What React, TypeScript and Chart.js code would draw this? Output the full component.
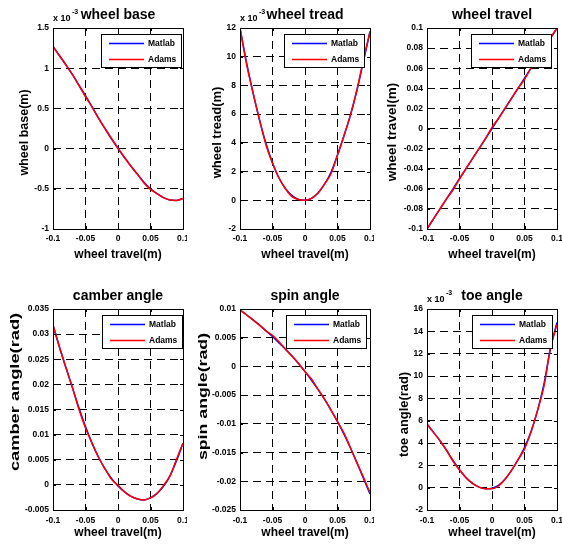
import React, { useEffect, useRef } from 'react';
import { Chart, registerables } from 'chart.js';

Chart.register(...registerables);

const FONT = "'Liberation Sans', Arial, Helvetica, sans-serif";

// ---------- data ----------
const travel = [-0.1, -0.09, -0.08, -0.07, -0.06, -0.05, -0.04, -0.03, -0.02, -0.01, 0, 0.01, 0.02, 0.03, 0.04, 0.05, 0.06, 0.07, 0.08, 0.09, 0.1];
const xTicks = [-0.1, -0.05, 0, 0.05, 0.1];
const seriesNames = ['Matlab', 'Adams'];

// wheel base (x 10^-3 m)
const wheelBaseMatlab = [1.27, 1.155, 1.04, 0.92, 0.79, 0.66, 0.52, 0.38, 0.25, 0.12, 0.0, -0.11, -0.22, -0.32, -0.42, -0.5, -0.56, -0.61, -0.64, -0.645, -0.62];
const wheelBaseAdams = [1.27, 1.155, 1.04, 0.92, 0.783, 0.645, 0.52, 0.38, 0.25, 0.128, 0.008, -0.11, -0.22, -0.32, -0.428, -0.508, -0.56, -0.61, -0.64, -0.645, -0.62];
const wheelBaseTicks = [-1, -0.5, 0, 0.5, 1, 1.5];

// wheel tread (x 10^-3 m)
const wheelTreadMatlab = [12.0, 9.6, 7.5, 5.6, 3.95, 2.6, 1.55, 0.8, 0.32, 0.06, 0.0, 0.13, 0.5, 1.12, 1.95, 3.15, 4.5, 5.95, 7.7, 9.7, 11.75];
const wheelTreadAdams = [12.0, 9.5, 7.5, 5.6, 3.85, 2.6, 1.55, 0.8, 0.25, 0.06, 0.0, 0.13, 0.5, 1.12, 1.85, 3.15, 4.5, 5.95, 7.7, 9.8, 11.75];
const wheelTreadTicks = [-2, 0, 2, 4, 6, 8, 10, 12];

// wheel travel (m)
const wheelTravelMatlab = [-0.1, -0.09, -0.08, -0.07, -0.06, -0.05, -0.04, -0.03, -0.02, -0.01, 0, 0.01, 0.02, 0.03, 0.04, 0.05, 0.06, 0.07, 0.08, 0.09, 0.1];
const wheelTravelAdams = [-0.1, -0.09, -0.08, -0.07, -0.0612, -0.05, -0.04, -0.03, -0.02, -0.01, 0.0012, 0.01, 0.02, 0.03, 0.04, 0.0488, 0.06, 0.07, 0.08, 0.09, 0.1];
const wheelTravelTicks = [-0.1, -0.08, -0.06, -0.04, -0.02, 0, 0.02, 0.04, 0.06, 0.08, 0.1];

// camber angle (rad)
const camberMatlab = [0.0318, 0.0274, 0.0233, 0.0193, 0.0153, 0.0116, 0.0083, 0.0055, 0.0032, 0.0013, -0.0002, -0.0014, -0.0023, -0.0028, -0.003, -0.0026, -0.0017, -0.0003, 0.0018, 0.0048, 0.0083];
const camberAdams = [0.0318, 0.0274, 0.0233, 0.0193, 0.015, 0.0113, 0.0083, 0.0055, 0.0032, 0.0011, -0.0001, -0.0014, -0.0023, -0.0028, -0.003, -0.0026, -0.0017, -0.0001, 0.0018, 0.0051, 0.0083];
const camberTicks = [-0.005, 0, 0.005, 0.01, 0.015, 0.02, 0.025, 0.03, 0.035];

// spin angle (rad)
const spinMatlab = [0.0098, 0.009, 0.0081, 0.0072, 0.0062, 0.0052, 0.0041, 0.003, 0.0018, 0.0005, -0.0009, -0.0024, -0.004, -0.0057, -0.0076, -0.0096, -0.0118, -0.0142, -0.0168, -0.0195, -0.0222];
const spinAdams = [0.0098, 0.009, 0.0081, 0.0072, 0.0062, 0.0054, 0.0043, 0.003, 0.0018, 0.0005, -0.0009, -0.0022, -0.004, -0.0057, -0.0076, -0.0096, -0.0116, -0.0142, -0.0168, -0.0193, -0.022];
const spinTicks = [-0.025, -0.02, -0.015, -0.01, -0.005, 0, 0.005, 0.01];

// toe angle (x 10^-3 rad)
const toeMatlab = [5.7, 4.95, 4.2, 3.35, 2.45, 1.6, 0.9, 0.38, 0.05, -0.1, -0.05, 0.2, 0.75, 1.55, 2.5, 3.6, 5.0, 6.9, 9.3, 12.5, 14.8];
const toeAdams = [5.7, 4.95, 4.2, 3.35, 2.35, 1.6, 0.9, 0.38, 0.05, -0.1, -0.1, 0.15, 0.75, 1.55, 2.5, 3.45, 5.0, 6.9, 9.1, 12.5, 14.6];
const toeTicks = [-2, 0, 2, 4, 6, 8, 10, 12, 14, 16];

// ---------- panel descriptions ----------
type Panel = {
  title: string;
  yLabel: string;
  exponent: string | null;
  matlab: number[];
  adams: number[];
  yTicks: number[];
  left: number; top: number; width: number; height: number;
  yAxisWidth: number; rightPad: number;
  titlePad: { top: number; bottom: number };
  xAxisHeight: number; xTitlePadBottom: number; xTickPad: number;
  yTitleDX: number; yTitleDY: number; yTitleStretch: number;
  legendInset: number;
};

const topRow = { top: 0, height: 270, titlePad: { top: 7.1, bottom: 4.1 }, xAxisHeight: 41, xTitlePadBottom: 7.8, xTickPad: 5 };
const bottomRow = { top: 270, height: 275, titlePad: { top: 17.6, bottom: 4.6 }, xAxisHeight: 35, xTitlePadBottom: 4.8, xTickPad: 6 };
const col1 = { left: 0, width: 187, yAxisWidth: 53, rightPad: 4 };
const col2 = { left: 187, width: 187, yAxisWidth: 53, rightPad: 4 };
const col3 = { left: 374, width: 188, yAxisWidth: 53, rightPad: 5 };

const panels: Panel[] = [
  { title: 'wheel base', yLabel: 'wheel base(m)', exponent: '-3', matlab: wheelBaseMatlab, adams: wheelBaseAdams, yTicks: wheelBaseTicks,
    ...topRow, ...col1, yTitleDX: -28, yTitleDY: 4, yTitleStretch: 1.0, legendInset: 2 },
  { title: 'wheel tread', yLabel: 'wheel tread(m)', exponent: '-3', matlab: wheelTreadMatlab, adams: wheelTreadAdams, yTicks: wheelTreadTicks,
    ...topRow, ...col2, yTitleDX: -22, yTitleDY: 4, yTitleStretch: 1.04, legendInset: 6 },
  { title: 'wheel travel', yLabel: 'wheel travel(m)', exponent: null, matlab: wheelTravelMatlab, adams: wheelTravelAdams, yTicks: wheelTravelTicks,
    ...topRow, ...col3, yTitleDX: -34, yTitleDY: 3.5, yTitleStretch: 1.08, legendInset: 6 },
  { title: 'camber angle', yLabel: 'camber angle(rad)', exponent: null, matlab: camberMatlab, adams: camberAdams, yTicks: camberTicks,
    ...bottomRow, ...col1, yTitleDX: -37.5, yTitleDY: -17.5, yTitleStretch: 1.46, legendInset: 1 },
  { title: 'spin angle', yLabel: 'spin angle(rad)', exponent: null, matlab: spinMatlab, adams: spinAdams, yTicks: spinTicks,
    ...bottomRow, ...col2, yTitleDX: -36, yTitleDY: -13, yTitleStretch: 1.42, legendInset: 4 },
  { title: 'toe angle', yLabel: 'toe angle(rad)', exponent: '-3', matlab: toeMatlab, adams: toeAdams, yTicks: toeTicks,
    ...bottomRow, ...col3, yTitleDX: -22, yTitleDY: 5, yTitleStretch: 1.03, legendInset: 5 },
];

// ---------- plugin: MATLAB-like box, ticks, legend, labels ----------
const matlabPlugin = {
  id: 'matlabDecor',
  afterDatasetsDraw(chart: any, _args: any, opts: any) {
    const { ctx, chartArea: ca } = chart;
    const xs = chart.scales.x;
    const ys = chart.scales.y;
    ctx.save();
    ctx.strokeStyle = '#000';
    ctx.lineWidth = 1;
    ctx.setLineDash([]);
    const tl = 3;
    ctx.beginPath();
    xs.ticks.forEach((t: any) => {
      const px = Math.round(xs.getPixelForValue(t.value)) + 0.5;
      ctx.moveTo(px, ca.bottom); ctx.lineTo(px, ca.bottom - tl);
      ctx.moveTo(px, ca.top); ctx.lineTo(px, ca.top + tl);
    });
    ys.ticks.forEach((t: any) => {
      const py = Math.round(ys.getPixelForValue(t.value)) + 0.5;
      ctx.moveTo(ca.left, py); ctx.lineTo(ca.left + tl, py);
      ctx.moveTo(ca.right, py); ctx.lineTo(ca.right - tl, py);
    });
    ctx.stroke();
    ctx.strokeRect(Math.round(ca.left) + 0.5, Math.round(ca.top) + 0.5, Math.round(ca.right - ca.left), Math.round(ca.bottom - ca.top));

    // legend box
    const w = 80, h = 33;
    const bx = Math.round(ca.right - opts.legendInset - w);
    const by = Math.round(ca.top + 6);
    ctx.fillStyle = '#fff';
    ctx.fillRect(bx, by, w, h);
    ctx.strokeRect(bx + 0.5, by + 0.5, w, h);
    ctx.font = `bold 8.5px ${FONT}`;
    ctx.textAlign = 'left';
    ctx.textBaseline = 'middle';
    chart.data.datasets.forEach((ds: any, i: number) => {
      const y = by + 9.5 + i * 16;
      ctx.strokeStyle = ds.borderColor;
      ctx.lineWidth = 1.5;
      ctx.beginPath();
      ctx.moveTo(bx + 8, y);
      ctx.lineTo(bx + 43, y);
      ctx.stroke();
      ctx.fillStyle = '#000';
      ctx.fillText(ds.label, bx + 47, y);
    });
    ctx.restore();
  },
  afterDraw(chart: any, _args: any, opts: any) {
    const { ctx, chartArea: ca } = chart;
    ctx.save();
    ctx.fillStyle = '#000';
    if (opts.exponent) {
      ctx.textAlign = 'left';
      ctx.textBaseline = 'middle';
      ctx.font = `bold 9px ${FONT}`;
      const base = 'x 10';
      ctx.fillText(base, ca.left, ca.top - 9.5);
      const bw = ctx.measureText(base).width;
      ctx.font = `bold 7px ${FONT}`;
      ctx.fillText(opts.exponent, ca.left + bw + 1.5, ca.top - 16);
    }
    ctx.font = `bold 12.5px ${FONT}`;
    ctx.textAlign = 'center';
    ctx.textBaseline = 'middle';
    ctx.translate(ca.left + opts.yTitleDX, (ca.top + ca.bottom) / 2 + opts.yTitleDY);
    ctx.rotate(-Math.PI / 2);
    ctx.scale(opts.yTitleStretch, 1);
    ctx.fillText(opts.yLabel, 0, 0);
    ctx.restore();
  },
};

function toPoints(vals: number[]) {
  return travel.map((x, i) => ({ x, y: vals[i] }));
}

function PanelChart({ p }: { p: Panel }) {
  const ref = useRef<HTMLCanvasElement>(null);
  useEffect(() => {
    const tickFont = { family: FONT, size: 8.5, weight: 'bold' as const };
    const chart = new Chart(ref.current!, {
      type: 'line',
      data: {
        datasets: [
          { label: seriesNames[0], data: toPoints(p.matlab), borderColor: '#0000ff', backgroundColor: '#0000ff', borderWidth: 1.5, pointRadius: 0, fill: false, cubicInterpolationMode: 'monotone', order: 1 },
          { label: seriesNames[1], data: toPoints(p.adams), borderColor: '#ff0000', backgroundColor: '#ff0000', borderWidth: 1.5, pointRadius: 0, fill: false, cubicInterpolationMode: 'monotone', order: 0 },
        ],
      },
      options: {
        responsive: false,
        animation: false,
        devicePixelRatio: 1,
        events: [],
        layout: { padding: { left: 0, top: 0, right: p.rightPad, bottom: 0 } },
        plugins: {
          legend: { display: false },
          tooltip: { enabled: false },
          title: {
            display: true,
            text: p.title,
            fullSize: false,
            color: '#000',
            font: { family: FONT, size: 14, weight: 'bold', lineHeight: 1.2 },
            padding: p.titlePad,
          },
          matlabDecor: {
            exponent: p.exponent,
            yLabel: p.yLabel,
            yTitleDX: p.yTitleDX,
            yTitleDY: p.yTitleDY,
            yTitleStretch: p.yTitleStretch,
            legendInset: p.legendInset,
          },
        } as any,
        scales: {
          x: {
            type: 'linear',
            min: xTicks[0],
            max: xTicks[xTicks.length - 1],
            afterBuildTicks: (s: any) => { s.ticks = xTicks.map((v) => ({ value: v })); },
            afterFit: (s: any) => { s.height = p.xAxisHeight; s.paddingLeft = 0; s.paddingRight = 0; },
            ticks: { autoSkip: false, maxRotation: 0, minRotation: 0, padding: p.xTickPad, color: '#000', font: tickFont, callback: (v: any) => String(v) },
            grid: { color: '#000', lineWidth: 1, drawTicks: false, borderDash: [8, 5] } as any,
            border: { display: false, dash: [8, 5] },
            title: { display: true, text: 'wheel travel(m)', color: '#000', font: { family: FONT, size: 12, weight: 'bold', lineHeight: 1.2 }, padding: { top: 0, bottom: p.xTitlePadBottom } },
          },
          y: {
            type: 'linear',
            min: p.yTicks[0],
            max: p.yTicks[p.yTicks.length - 1],
            afterBuildTicks: (s: any) => { s.ticks = p.yTicks.map((v) => ({ value: v })); },
            afterFit: (s: any) => { s.width = p.yAxisWidth; s.paddingTop = 0; s.paddingBottom = 0; },
            ticks: { autoSkip: false, padding: 4, color: '#000', font: tickFont, callback: (v: any) => String(v) },
            grid: { color: '#000', lineWidth: 1, drawTicks: false, borderDash: [8, 5] } as any,
            border: { display: false, dash: [8, 5] },
          },
        },
      },
      plugins: [matlabPlugin],
    } as any);
    return () => chart.destroy();
  }, [p]);
  return (
    <canvas
      ref={ref}
      width={p.width}
      height={p.height}
      style={{ position: 'absolute', left: p.left, top: p.top, width: p.width, height: p.height }}
    />
  );
}

export default function App() {
  return (
    <div style={{ position: 'absolute', left: 0, top: 0, width: 562, height: 545, background: '#fff', overflow: 'hidden' }}>
      {panels.map((p) => (
        <PanelChart key={p.title} p={p} />
      ))}
    </div>
  );
}
